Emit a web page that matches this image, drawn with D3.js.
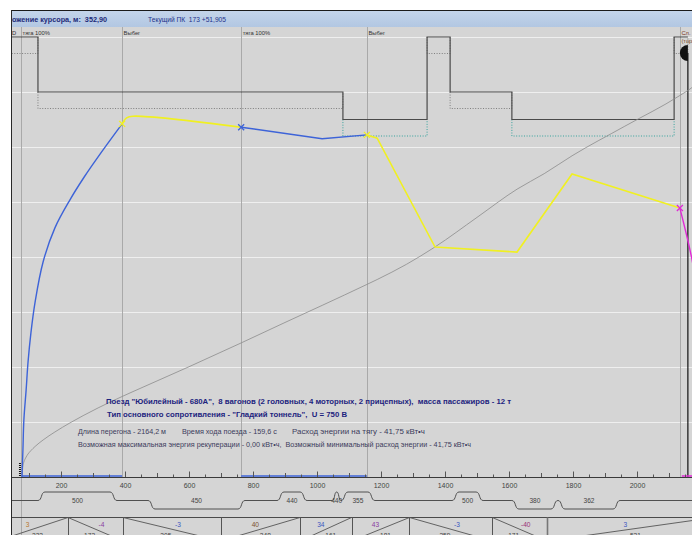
<!DOCTYPE html>
<html><head><meta charset="utf-8">
<script src="https://cdn.jsdelivr.net/npm/d3@7"></script>
<style>
html,body{margin:0;padding:0;background:#fff;}
svg{display:block;font-family:"Liberation Sans",Arial,sans-serif;}
svg text{white-space:pre;}
</style></head><body>
<svg id="chart" width="692" height="535"></svg>
<script>
// ---- distance axis (m) ----
const distTicks = d3.range(100, 2201, 50);
const distLabels = [200, 400, 600, 800, 1000, 1200, 1400, 1600, 1800, 2000];

// ---- driving modes: switch positions (m) and labels ----
const modePos    = [75, 391, 763, 1156, 2134];
const modeLabels = ["тяга 100%", "Выбег", "тяга 100%", "Выбег", "Сл."];

// ---- speed limits (km/h) by section ----
const limitFrom  = [0, 128, 1081, 1344, 1416, 1609, 2116];
const limitTo    = [128, 1081, 1344, 1416, 1609, 2116, 2159];
const limitSpeed = [80, 70, 65, 80, 70, 65, 80];
const limitMargin = 3;
const signalPos = 2159;

// ---- speed curve [m, km/h] per driving mode ----
const speedTraction1 = [[78,0],[81,4.9],[84,10.4],[91,15.8],[97,20.9],[106,26.2],[119,31.8],[144,39.1],[181,45.3],[228,50.4],[272,54.5],[322,58.7],[391,64.2]];
const speedCoast1    = [[391,64.2],[405,65.3],[425,65.6],[763,63.6]];
const speedTraction2 = [[763,63.6],[1016,61.5],[1156,62.2]];
const speedCoast2    = [[1156,62.2],[1188,61.6],[1369,41.8],[1625,40.9],[1797,55.1],[2134,48.9]];
const speedBrake     = [[2134,48.9],[2172,39.5],[2200,29]];

// ---- running time [m, s] ----
const timeCurve = [[78,0],[81,4.4],[84,5.8],[91,7.7],[97,8.9],[106,10.2],[119,11.8],[144,14.3],[181,17.4],[228,20.9],[269,23.7],[316,26.7],[391,31.1],[425,33.0],[600,42.6],[763,51.8],[900,59.7],[1016,66.3],[1156,74.4],[1188,76.3],[1280,82.2],[1369,88.9],[1500,100.3],[1625,111.2],[1710,117.2],[1797,124.1],[1960,135.4],[2134,147.4],[2172,150.5],[2242,159.6]];

// ---- mode bars along the axis ----
const barFrom = [78, 763, 2140];
const barTo   = [391, 1156, 2242];
const barMode = ["traction", "traction", "brake"];

// ---- track plan: curves (m) and radii ----
const planFrom   = [128, 472, 875, 1048, 1075, 1422, 1609, 1753];
const planTo     = [375, 775, 969, 1075, 1181, 1519, 1753, 1947];
const planRadius = [500, 450, 440, 440, 355, 500, 380, 362];
const planSide   = ["up","down","up","up","up","up","down","down"];

// ---- track profile: gradients (‰) and element lengths (m) ----
const gradients   = [3, -4, -3, 40, 34, 43, -3, -40, 3];
const gradLengths = [222, 172, 305, 248, 161, 181, 259, 171, 521];
const gradColors  = ["#b8772e", "#8a3aa0", "#3a55c0", "#7a5030", "#3a55c0", "#8a3aa0", "#3a55c0", "#9a2e78", "#3a55c0"];

// ---- scales ----
const x = d3.scaleLinear().domain([0, 2000]).range([-3, 637]);
const ySpeed = d3.scaleLinear().domain([0, 80]).range([477, 37]);
const yTime  = d3.scaleLinear().domain([0, 170]).range([477, 37]);

const svg = d3.select("#chart");
const L = 12, R = 692, AXIS_Y = 477.5;
const NB = "\u00a0\u00a0";

function fit(sel, w) { return sel.attr("textLength", w).attr("lengthAdjust", "spacingAndGlyphs"); }

// window background and header
svg.append("rect").attr("x", 0).attr("y", 0).attr("width", 692).attr("height", 535).attr("fill", "#fff");
svg.append("rect").attr("x", L).attr("y", 11).attr("width", R - L).attr("height", 524).attr("fill", "#d5d5d5");
const defs = svg.append("defs");
const grad = defs.append("linearGradient").attr("id", "hdr").attr("x1", 0).attr("y1", 0).attr("x2", 0).attr("y2", 1);
grad.append("stop").attr("offset", "0%").attr("stop-color", "#c3d4ea");
grad.append("stop").attr("offset", "100%").attr("stop-color", "#b2c7e2");
defs.append("clipPath").attr("id", "plotClip")
  .append("rect").attr("x", L).attr("y", 11).attr("width", R - L).attr("height", 524);
svg.append("rect").attr("x", L).attr("y", 11).attr("width", R - L).attr("height", 16).attr("fill", "url(#hdr)");

const g = svg.append("g").attr("clip-path", "url(#plotClip)");

// cursor readout: the panel is scrolled so the first letters sit under the frame edge
const cur = g.append("text").attr("y", 22).attr("x", 0)
  .attr("font-size", 8.2).attr("font-weight", "bold").attr("fill", "#1d2a78")
  .text("Положение курсора, м:" + NB + "352,90");
{
  const node = cur.node();
  const hidden = node.getSubStringLength(0, 3);
  const shown = node.getComputedTextLength() - hidden;
  const fs = 8.2 * 95 / shown;
  cur.attr("font-size", fs);
  cur.attr("x", 12 - node.getSubStringLength(0, 3));
}
fit(g.append("text").attr("x", 148).attr("y", 21.5).attr("font-size", 7.2).attr("fill", "#23318a")
  .text("Текущий ПК" + NB + "173 +51,905"), 78);

// speed grid
g.selectAll("line.grid").data(d3.range(10, 81, 10)).join("line")
  .attr("x1", L).attr("x2", R).attr("y1", d => Math.round(ySpeed(d)) + 0.5).attr("y2", d => Math.round(ySpeed(d)) + 0.5)
  .attr("stroke", "#efefef").attr("stroke-width", 1);

// mode switch verticals and labels
g.selectAll("line.mode").data(modePos).join("line")
  .attr("x1", d => Math.round(x(d)) + 0.5).attr("x2", d => Math.round(x(d)) + 0.5)
  .attr("y1", 27).attr("y2", (d, i) => i === 0 ? 535 : AXIS_Y)
  .attr("stroke", "#a9a9a9").attr("stroke-width", 1);
g.append("text").attr("x", 12).attr("y", 35).attr("font-size", 5.8).attr("fill", "#333").text("D");
g.selectAll("text.mode").data(modePos).join("text")
  .attr("x", d => x(d) + 1.5).attr("y", 35).attr("font-size", 5.8)
  .attr("fill", (d, i) => i === modePos.length - 1 ? "#7a3020" : "#333")
  .text((d, i) => modeLabels[i]);
g.append("text").attr("x", x(modePos[4]) + 1.5).attr("y", 42.5).attr("font-size", 5.8).attr("fill", "#7a4a20").text("(торможение)");

// speed limits: dotted lower band, then solid step line
const limits = limitFrom.map((f, i) => ({ from: f, to: limitTo[i], v: limitSpeed[i] }));
limits.forEach(s => {
  const lo = s.v - limitMargin;
  const col = s.v === 65 ? "#35a29c" : "#7e7e7e";
  const p = d3.path();
  p.moveTo(x(s.from), ySpeed(s.v)); p.lineTo(x(s.from), ySpeed(lo));
  p.lineTo(x(s.to), ySpeed(lo)); p.lineTo(x(s.to), ySpeed(s.v));
  g.append("path").attr("d", p.toString()).attr("fill", "none")
    .attr("stroke", col).attr("stroke-width", 1).attr("stroke-dasharray", "1,1.6");
});
const stepPts = limits.map(s => [s.from, s.v]).concat([[limits[limits.length - 1].to, limits[limits.length - 1].v]]);
g.append("path").attr("d", d3.line().x(d => x(d[0])).y(d => ySpeed(d[1])).curve(d3.curveStepAfter)(stepPts))
  .attr("fill", "none").attr("stroke", "#4a4a4a").attr("stroke-width", 1.2);

// signal
g.append("line").attr("x1", x(signalPos)).attr("x2", x(signalPos)).attr("y1", 53).attr("y2", AXIS_Y)
  .attr("stroke", "#111").attr("stroke-width", 1.2);
g.append("path").attr("transform", `translate(${x(signalPos)},53)`)
  .attr("d", d3.arc()({ innerRadius: 0, outerRadius: 8, startAngle: Math.PI, endAngle: 2 * Math.PI }))
  .attr("fill", "#111");

// running time curve
g.append("path").attr("d", d3.line().x(d => x(d[0])).y(d => yTime(d[1])).curve(d3.curveMonotoneX)(timeCurve))
  .attr("fill", "none").attr("stroke", "#8c8c8c").attr("stroke-width", 0.8);

// speed curve by mode
const sLine = d3.line().x(d => x(d[0])).y(d => ySpeed(d[1]));
const sSmooth = d3.line().x(d => x(d[0])).y(d => ySpeed(d[1])).curve(d3.curveCatmullRom.alpha(0.5));
const BLUE = "#3d63d8", YELLOW = "#f0f022", MAGENTA = "#e02ad6";
g.append("path").attr("d", sSmooth(speedTraction1)).attr("fill", "none").attr("stroke", BLUE).attr("stroke-width", 1.4);
g.append("path").attr("d", sSmooth(speedCoast1)).attr("fill", "none").attr("stroke", YELLOW).attr("stroke-width", 1.6);
g.append("path").attr("d", sLine(speedTraction2)).attr("fill", "none").attr("stroke", BLUE).attr("stroke-width", 1.4);
g.append("path").attr("d", sLine(speedCoast2)).attr("fill", "none").attr("stroke", YELLOW).attr("stroke-width", 1.6);
g.append("path").attr("d", sSmooth(speedBrake)).attr("fill", "none").attr("stroke", MAGENTA).attr("stroke-width", 1.4);

// mode switch crosses
const crosses = [[speedCoast1[0], YELLOW], [speedTraction2[0], BLUE], [speedCoast2[0], YELLOW], [speedBrake[0], MAGENTA]];
crosses.forEach(([pt, col]) => {
  g.append("path").attr("transform", `translate(${x(pt[0])},${ySpeed(pt[1])})`)
    .attr("d", "M-3,-3L3,3M-3,3L3,-3").attr("stroke", col).attr("stroke-width", 1.3);
});

// mode bars on the axis
barFrom.forEach((f, i) => {
  g.append("line").attr("x1", x(f)).attr("x2", x(barTo[i])).attr("y1", 476).attr("y2", 476)
    .attr("stroke", barMode[i] === "brake" ? MAGENTA : BLUE).attr("stroke-width", 1.6);
});
// start position marker
g.append("line").attr("x1", x(timeCurve[0][0]) - 2).attr("x2", x(timeCurve[0][0]) - 2).attr("y1", 463).attr("y2", 477)
  .attr("stroke", "#111").attr("stroke-width", 2).attr("stroke-dasharray", "1,1");

// distance axis
const axis = d3.axisBottom(x).tickValues(distTicks).tickSize(-3).tickPadding(6)
  .tickFormat(d => distLabels.includes(d) ? d : "");
const ax = g.append("g").attr("transform", `translate(0,${AXIS_Y})`).call(axis);
ax.select(".domain").remove();
ax.selectAll(".tick line").attr("stroke", "#555")
  .attr("y2", d => d % 200 === 0 ? -6 : d % 100 === 0 ? -4.5 : -3);
ax.selectAll(".tick text").attr("font-size", 7).attr("fill", "#444").attr("font-family", "Liberation Sans, Arial, sans-serif");
g.append("line").attr("x1", L).attr("x2", R).attr("y1", AXIS_Y).attr("y2", AXIS_Y).attr("stroke", "#3a3a3a");

// track plan row
const BASE = 500.5, AMP = 8.5;
const plan = planFrom.map((f, i) => ({ from: f, to: planTo[i], r: planRadius[i], side: planSide[i] }));
const pp = d3.path();
pp.moveTo(L, BASE);
plan.forEach(c => {
  const xs = x(c.from), xe = x(c.to), yo = BASE + (c.side === "up" ? -AMP : AMP);
  const k = Math.min(7, (xe - xs) / 2);
  pp.lineTo(xs, BASE);
  pp.bezierCurveTo(xs + k * 0.6, BASE, xs + k * 0.4, yo, xs + k, yo);
  pp.lineTo(xe - k, yo);
  pp.bezierCurveTo(xe - k * 0.4, yo, xe - k * 0.6, BASE, xe, BASE);
});
pp.lineTo(R, BASE);
g.append("path").attr("d", pp.toString()).attr("fill", "none").attr("stroke", "#505050").attr("stroke-width", 1);
g.selectAll("text.plan").data(plan).join("text")
  .attr("x", d => (x(d.from) + x(d.to)) / 2).attr("y", 503).attr("text-anchor", "middle")
  .attr("font-size", 6.6).attr("fill", "#444").text(d => d.r);

// track profile table
const TOP = 517.5, BOT = 541;
g.append("line").attr("x1", L).attr("x2", R).attr("y1", TOP).attr("y2", TOP).attr("stroke", "#4a4a4a");
let acc = 0;
const prof = gradients.map((gv, i) => { const o = { from: acc, to: acc + gradLengths[i], g: gv, len: gradLengths[i], col: gradColors[i] }; acc += gradLengths[i]; return o; });
prof.forEach((c, i) => {
  const xs = x(c.from), xe = x(c.to);
  if (i > 0) g.append("line").attr("x1", Math.round(xs) + 0.5).attr("x2", Math.round(xs) + 0.5).attr("y1", TOP).attr("y2", 535)
    .attr("stroke", i === 8 ? "#777" : "#555").attr("stroke-width", i === 8 ? 1.6 : 1);
  const up = c.g > 0;
  g.append("line").attr("x1", xs).attr("y1", up ? BOT : TOP).attr("x2", xe).attr("y2", up ? TOP : BOT)
    .attr("stroke", "#555").attr("stroke-width", 0.9);
  const cx = (xs + xe) / 2;
  g.append("text").attr("x", cx + (up ? -5 : 6)).attr("y", 526.5).attr("text-anchor", "middle")
    .attr("font-size", 6.6).attr("fill", c.col).text(c.g);
  g.append("text").attr("x", cx + (up ? 5 : -6)).attr("y", 538).attr("text-anchor", "middle")
    .attr("font-size", 6.6).attr("fill", "#444").text(c.len);
});

// train and run summary
const info = g.append("g");
fit(info.append("text").attr("x", 106).attr("y", 404).attr("font-size", 7.8).attr("font-weight", "bold").attr("fill", "#1c237e")
  .text("Поезд \"Юбилейный - 680А\"," + NB + "8 вагонов (2 головных, 4 моторных, 2 прицепных)," + NB + "масса пассажиров - 12 т"), 405);
fit(info.append("text").attr("x", 107).attr("y", 417).attr("font-size", 7.8).attr("font-weight", "bold").attr("fill", "#1c237e")
  .text("Тип основного сопротивления - \"Гладкий тоннель\"," + NB + "U = 750 В"), 240);
const c3 = "#3c3c5c";
fit(info.append("text").attr("x", 78).attr("y", 434).attr("font-size", 6.8).attr("fill", c3).text("Длина перегона - 2164,2 м"), 88);
fit(info.append("text").attr("x", 182).attr("y", 434).attr("font-size", 6.8).attr("fill", c3).text("Время хода поезда - 159,6 с"), 95);
fit(info.append("text").attr("x", 292).attr("y", 434).attr("font-size", 6.8).attr("fill", c3).text("Расход энергии на тягу - 41,75 кВт•ч"), 133);
fit(info.append("text").attr("x", 78).attr("y", 447).attr("font-size", 6.8).attr("fill", c3)
  .text("Возможная максимальная энергия рекуперации - 0,00 кВт•ч," + NB + "Возможный минимальный расход энергии - 41,75 кВт•ч"), 393);

// window frame
svg.append("line").attr("x1", 11).attr("x2", 692).attr("y1", 10.5).attr("y2", 10.5).attr("stroke", "#1a1a1a");
svg.append("line").attr("x1", 11.5).attr("x2", 11.5).attr("y1", 10).attr("y2", 535).attr("stroke", "#2a2a2a");
</script>
</body></html>
